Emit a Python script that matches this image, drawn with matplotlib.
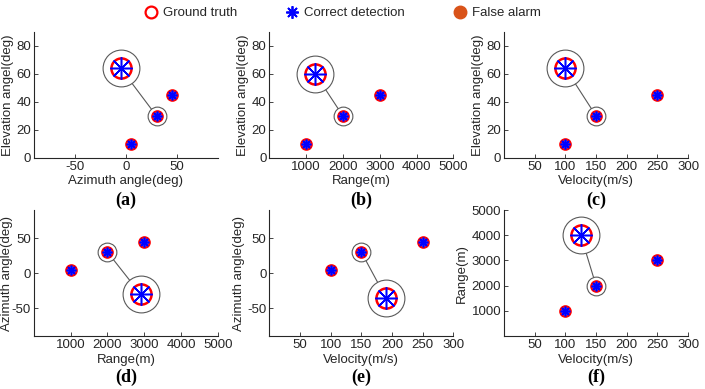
import matplotlib.pyplot as plt
from matplotlib.lines import Line2D

plt.rcParams['font.family'] = ['Liberation Sans', 'DejaVu Sans']
plt.rcParams['font.size'] = 9.5
plt.rcParams['axes.unicode_minus'] = False

# three targets
azimuth = [5, 30, 45]          # deg
elevation = [10, 30, 45]       # deg
range_m = [1000, 2000, 3000]   # m
velocity = [100, 150, 250]     # m/s
zoom_idx = 1                   # target shown magnified

# where the magnified copy of the zoomed target is drawn, per panel
zoom_at = {
    "a": (-5, 64),
    "b": (1250, 60),
    "c": (100, 64),
    "d": (2900, -30),
    "e": (190, -35),
    "f": (125, 4000),
}

GRAY = "0.15"
ASTER = (8, 2, 0)

panels = [
    ("a", azimuth, elevation, "Azimuth angle(deg)", "Elevation angel(deg)",
     (-90, 90), (0, 90), [-50, 0, 50], [0, 20, 40, 60, 80]),
    ("b", range_m, elevation, "Range(m)", "Elevation angel(deg)",
     (0, 5000), (0, 90), [1000, 2000, 3000, 4000, 5000], [0, 20, 40, 60, 80]),
    ("c", velocity, elevation, "Velocity(m/s)", "Elevation angel(deg)",
     (0, 300), (0, 90), [50, 100, 150, 200, 250, 300], [0, 20, 40, 60, 80]),
    ("d", range_m, azimuth, "Range(m)", "Azimuth angle(deg)",
     (0, 5000), (-90, 90), [1000, 2000, 3000, 4000, 5000], [-50, 0, 50]),
    ("e", velocity, azimuth, "Velocity(m/s)", "Azimuth angle(deg)",
     (0, 300), (-90, 90), [50, 100, 150, 200, 250, 300], [-50, 0, 50]),
    ("f", velocity, range_m, "Velocity(m/s)", "Range(m)",
     (0, 300), (0, 5000), [50, 100, 150, 200, 250, 300], [1000, 2000, 3000, 4000, 5000]),
]
# horizontal centre of each y label, in axes fraction
ylabel_x = [-0.141, -0.141, -0.141, -0.147, -0.163, -0.228]

fig = plt.figure(figsize=(7.05, 3.89), dpi=100)

lefts = [0.048, 0.382, 0.715]
bottoms = [0.594, 0.136]
w, h = 0.261, 0.324
letter_y = [0.484, 0.030]

for i, (tag, xs, ys, xl, yl, xlim, ylim, xt, yt) in enumerate(panels):
    r, c = divmod(i, 3)
    ax = fig.add_axes([lefts[c], bottoms[r], w, h])
    zx, zy = zoom_at[tag]
    tx, ty = xs[zoom_idx], ys[zoom_idx]

    # magnifier: link line, small ring round the target, big ring round the copy
    ax.plot([tx, zx], [ty, zy], color="0.35", lw=0.8, zorder=1)
    ax.plot(tx, ty, "o", ms=13.5, mfc="white", mec="0.35", mew=0.8, zorder=2)
    ax.plot(zx, zy, "o", ms=26.5, mfc="white", mec="0.35", mew=0.8, zorder=2)

    ax.plot(xs, ys, "o", ls="none", ms=7.5, mfc="none", mec="red", mew=1.6, zorder=3)
    ax.plot(xs, ys, marker=ASTER, ls="none", ms=7, color="blue", mew=1.3, zorder=4)
    ax.plot(zx, zy, "o", ms=14.5, mfc="none", mec="red", mew=1.8, zorder=3)
    ax.plot(zx, zy, marker=ASTER, ms=16, color="blue", mew=1.1, zorder=4)

    ax.set_xlim(*xlim); ax.set_ylim(*ylim)
    ax.set_xticks(xt); ax.set_yticks(yt)
    ax.set_xlabel(xl, color=GRAY, labelpad=2)
    ax.set_ylabel(yl, color=GRAY, va="center")
    ax.yaxis.set_label_coords(ylabel_x[i], 0.5)
    for s in ("top", "right"):
        ax.spines[s].set_visible(False)
    for s in ("left", "bottom"):
        ax.spines[s].set_color(GRAY)
        ax.spines[s].set_linewidth(0.8)
    ax.tick_params(direction="in", length=3, width=0.6, colors=GRAY, labelsize=9.5, pad=2)

    fig.text(lefts[c] + w / 2, letter_y[r], f"({tag})", ha="center", va="center",
             family="Liberation Serif", weight="bold", fontsize=13)

handles = [
    Line2D([], [], ls="none", marker="o", ms=8.5, mfc="none", mec="red", mew=1.6),
    Line2D([], [], ls="none", marker=ASTER, ms=9, color="blue", mew=1.3),
    Line2D([], [], ls="none", marker="o", ms=9, color="#D95319"),
]
fig.legend(handles, ["Ground truth", "Correct detection", "False alarm"],
           loc="upper center", bbox_to_anchor=(0.486, 1.012), ncol=3, frameon=False,
           handlelength=1.0, handletextpad=0.4, columnspacing=3.7,
           labelcolor=GRAY, fontsize=9.5)

fig.savefig("out.png", dpi=100)
